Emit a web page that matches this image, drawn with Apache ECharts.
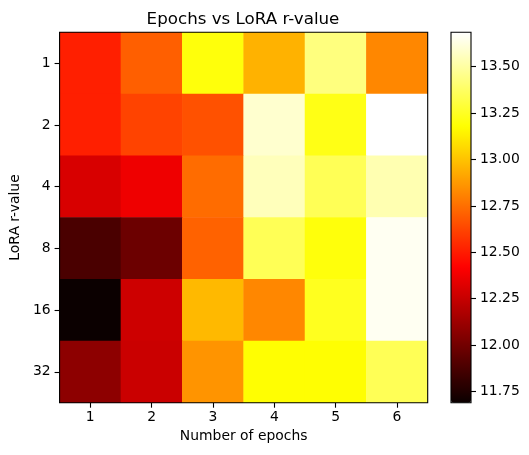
<!DOCTYPE html>
<html>
<head>
<meta charset="utf-8">
<script src="https://cdn.jsdelivr.net/npm/echarts@6/dist/echarts.min.js"></script>
<style>
html,body{margin:0;padding:0;background:#fff;}
#chart{width:529px;height:455px;}
</style>
</head>
<body>
<div id="chart"></div>
<script>
// ---- data ----
const epochs = ['1', '2', '3', '4', '5', '6'];
const rValues = ['1', '2', '4', '8', '16', '32'];
const rowR1  = [12.51, 12.70, 13.20, 12.95, 13.43, 12.82];
const rowR2  = [12.51, 12.62, 12.66, 13.59, 13.22, 13.685];
const rowR4  = [12.30, 12.37, 12.74, 13.55, 13.35, 13.53];
const rowR8  = [11.88, 11.98, 12.71, 13.35, 13.20, 13.66];
const rowR16 = [11.69, 12.27, 12.97, 12.82, 13.24, 13.66];
const rowR32 = [12.08, 12.26, 12.86, 13.18, 13.18, 13.35];
const cbMin = 11.69;
const cbMax = 13.685;
const cbTicks = [11.75, 12.00, 12.25, 12.50, 12.75, 13.00, 13.25, 13.50];

const rows = [rowR1, rowR2, rowR4, rowR8, rowR16, rowR32];
const heatData = [];
rows.forEach((row, yi) => row.forEach((v, xi) => heatData.push([xi, yi, v])));

// matplotlib "hot" colormap
function interp(pts, t) {
  for (let i = 0; i < pts.length - 1; i++) {
    const [x0, y0] = pts[i], [x1, y1] = pts[i + 1];
    if (t >= x0 && t <= x1) return y0 + (y1 - y0) * (t - x0) / (x1 - x0);
  }
  return pts[pts.length - 1][1];
}
const hotR = [[0, 0.0416], [0.365079, 1], [1, 1]];
const hotG = [[0, 0], [0.365079, 0], [0.746032, 1], [1, 1]];
const hotB = [[0, 0], [0.746032, 0], [1, 1]];
const hotColors = [];
for (let i = 0; i <= 128; i++) {
  const t = i / 128;
  const c = [hotR, hotG, hotB].map(p => Math.round(interp(p, t) * 255));
  hotColors.push('rgb(' + c.join(',') + ')');
}

const FONT = 'DejaVu Sans';
const chart = echarts.init(document.getElementById('chart'), null, {renderer: 'canvas'});
chart.setOption({
  animation: false,
  backgroundColor: '#fff',
  title: {
    text: 'Epochs vs LoRA r-value',
    left: 238, textAlign: 'center', top: 6,
    textStyle: {fontFamily: FONT, fontSize: 16.7, fontWeight: 'normal', color: '#000'}
  },
  grid: [
    {left: 57.3, top: 32.3, width: 370.4, height: 370.4, show: true, borderColor: '#000', borderWidth: 1.1, backgroundColor: 'transparent', z: 5},
    {left: 451, top: 32.3, width: 20, height: 370.4, show: true, borderColor: '#000', borderWidth: 1.1, backgroundColor: 'transparent', z: 5}
  ],
  xAxis: [
    {
      gridIndex: 0, type: 'category', data: epochs, position: 'bottom',
      axisLine: {show: false},
      axisTick: {show: true, alignWithLabel: true, length: 5, lineStyle: {color: '#000', width: 1.1}},
      axisLabel: {color: '#000', fontFamily: FONT, fontSize: 13.9, margin: 8},
      splitLine: {show: false},
      name: 'Number of epochs', nameLocation: 'middle', nameGap: 27,
      nameTextStyle: {color: '#000', fontFamily: FONT, fontSize: 13.9}
    },
    {gridIndex: 1, type: 'category', data: [''], show: false}
  ],
  yAxis: [
    {
      gridIndex: 0, type: 'category', data: rValues, inverse: true, position: 'left',
      axisLine: {show: false},
      axisTick: {show: true, alignWithLabel: true, length: 5, lineStyle: {color: '#000', width: 1.1}},
      axisLabel: {color: '#000', fontFamily: FONT, fontSize: 13.9, margin: 9},
      splitLine: {show: false},
      name: 'LoRA r-value', nameLocation: 'middle', nameGap: 35,
      nameTextStyle: {color: '#000', fontFamily: FONT, fontSize: 13.9}
    },
    {
      gridIndex: 1, type: 'value', min: cbMin, max: cbMax, position: 'right',
      axisLine: {show: false},
      splitLine: {show: false},
      axisTick: {show: true, length: 5, customValues: cbTicks, lineStyle: {color: '#000', width: 1.1}},
      axisLabel: {
        show: true, customValues: cbTicks, color: '#000', fontFamily: FONT, fontSize: 13.9, margin: 9,
        formatter: v => Number(v).toFixed(2)
      }
    }
  ],
  visualMap: {
    type: 'continuous', min: cbMin, max: cbMax, calculable: false, hoverLink: false,
    orient: 'vertical', left: 451, top: 32.3, itemWidth: 20, itemHeight: 370.4,
    padding: 0, seriesIndex: 0, dimension: 2, z: 1,
    inRange: {color: hotColors}
  },
  series: [{
    type: 'heatmap', xAxisIndex: 0, yAxisIndex: 0, data: heatData, z: 1,
    itemStyle: {borderWidth: 0},
    emphasis: {disabled: true}
  }]
});
</script>
</body>
</html>
